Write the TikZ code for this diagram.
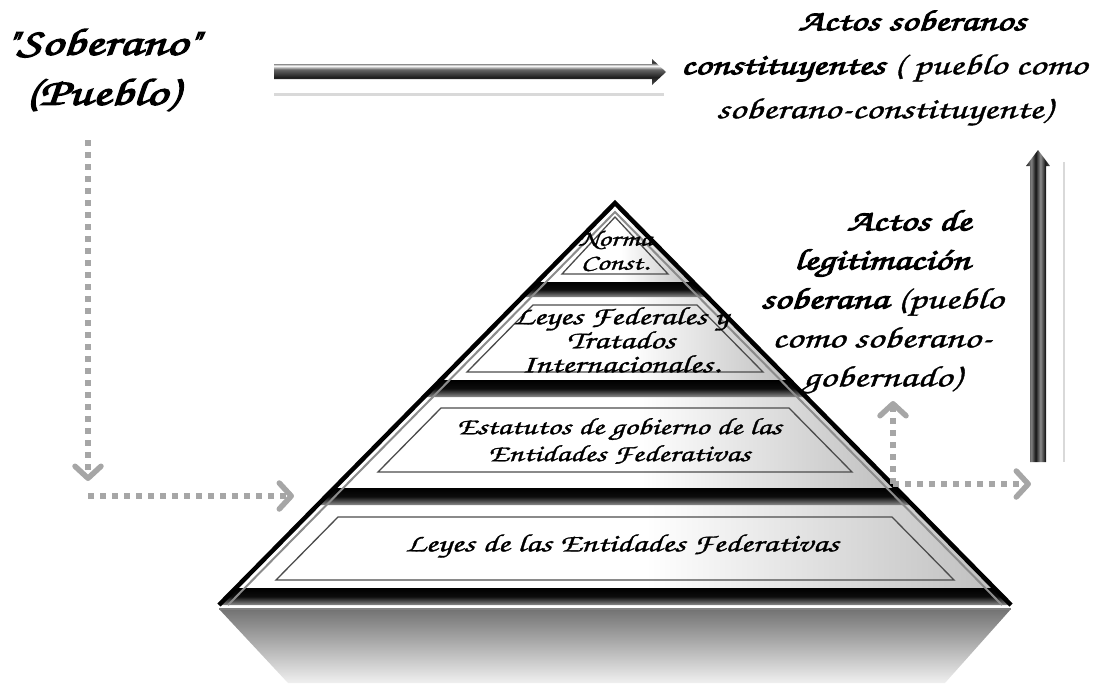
\documentclass[tikz,border=0pt]{standalone}
\usepackage{fontspec}
\setmainfont{TeX Gyre Chorus}[FakeStretch=1.4, FakeBold=1.2, BoldFont={TeX Gyre Chorus}, BoldFeatures={FakeBold=3.5}]
\newfontfamily\qfont{TeX Gyre Chorus}[Ligatures=TeXOff, FakeStretch=1.4, FakeBold=3.5]
\usetikzlibrary{arrows.meta}
\definecolor{dotgray}{HTML}{A6A6A6}
\pgfdeclareverticalshading{bandshade}{100bp}{color(0bp)=(black!45); color(25bp)=(black!45); color(38bp)=(black!72); color(50bp)=(black!95); color(75bp)=(black); color(100bp)=(black)}
\pgfdeclarehorizontalshading{tiershade}{100bp}{color(0bp)=(white); color(25bp)=(white); color(52bp)=(white); color(75bp)=(black!25); color(100bp)=(black!25)}
\pgfdeclarehorizontalshading{vbarshade}{100bp}{color(0bp)=(black!85); color(25bp)=(black!85); color(36bp)=(black!50); color(45bp)=(black!92); color(55bp)=(black!45); color(65bp)=(black!90); color(75bp)=(black!65); color(100bp)=(black!65)}
\pgfdeclareverticalshading{hbarshade}{100bp}{color(0bp)=(black!70); color(25bp)=(black!70); color(40bp)=(black!88); color(55bp)=(black!60); color(62bp)=(white); color(68bp)=(black!80); color(75bp)=(black!70); color(100bp)=(black!70)}
\begin{document}
\begin{tikzpicture}[x=1pt,y=-1pt,
  tierfill/.style={shading=tiershade},
  bandfill/.style={shading=bandshade},
  innerbox/.style={draw=black!70, line width=1.3pt},
  dotarrow/.style={draw=dotgray, line width=5.5pt, dash pattern=on 6pt off 6pt, -{Straight Barb[length=12pt,width=26pt,round]}},
  lbl/.style={align=center, inner sep=0pt, text=black},
]
\useasboundingbox (0,0) rectangle (1094,683);

% reflection under pyramid
\shade[top color=black!55, bottom color=black!6] (219,609) -- (1011,609) -- (945,683) -- (288,683) -- cycle;

% tiers (white parts)
\shade[tierfill] (615,203) -- (692.8,282) -- (537.2,282) -- cycle;
\shade[tierfill] (522.4,297) -- (707.6,297) -- (789.3,380) -- (440.7,380) -- cycle;
\shade[tierfill] (423.9,397) -- (806.1,397) -- (895.7,488) -- (334.3,488) -- cycle;
\shade[tierfill] (317.5,505) -- (912.5,505) -- (994.2,588) -- (235.8,588) -- cycle;

% bands
\shade[bandfill] (537.2,282) -- (692.8,282) -- (707.6,297) -- (522.4,297) -- cycle;
\shade[bandfill] (440.7,380) -- (789.3,380) -- (806.1,397) -- (423.9,397) -- cycle;
\shade[bandfill] (334.3,488) -- (895.7,488) -- (912.5,505) -- (317.5,505) -- cycle;
\shade[bandfill] (235.8,588) -- (994.2,588) -- (1011,605) -- (219,605) -- cycle;

% slopes
\draw[black!45, line width=2pt] (228,605) -- (615,212) -- (1002,605);
\draw[black, line width=4.5pt, line join=miter] (219,605) -- (615,203) -- (1011,605);
\draw[black!50, line width=1.5pt] (219,609) -- (1011,609);

% inner frames
\draw[innerbox] (615,217) -- (668,274) -- (562,274) -- cycle;
\draw[innerbox] (533,305) -- (697,305) -- (763,372) -- (467,372) -- cycle;
\draw[innerbox] (441,408) -- (789,408) -- (852,472) -- (378,472) -- cycle;
\draw[innerbox] (338,517) -- (892,517) -- (954,580) -- (276,580) -- cycle;

% tier texts
\node[lbl, font=\fontsize{22}{24}\selectfont] (tier1) at (615,251) {Norma\\Const.};
\node[lbl, font=\fontsize{25}{24}\selectfont] (tier2) at (621,340) {Leyes Federales y\\Tratados\\Internacionales.};
\node[lbl, font=\fontsize{23.5}{27}\selectfont] (tier3) at (619,441) {Estatutos de gobierno de las\\Entidades Federativas};
\node[lbl, font=\fontsize{25}{27}\selectfont] (tier4) at (622,546) {Leyes de las Entidades Federativas};

% top-left text
\node[lbl, font=\fontsize{38}{50}\selectfont\bfseries] (sob) at (102,70) {{\qfont"}Soberano{\qfont"}\\(Pueblo)};

% top-right text
\node[lbl, font=\fontsize{29}{44}\selectfont] (act) at (884,68)
  {\hspace*{56pt}\textbf{Actos soberanos}\\\textbf{constituyentes} ( pueblo como\\soberano-constituyente)};

% right middle text
\node[lbl, font=\fontsize{29.5}{39}\selectfont] (leg) at (882,302)
  {\hspace*{54pt}\textbf{Actos de}\\\textbf{legitimación}\\\textbf{soberana} (pueblo\\como soberano-\\gobernado)};

% top horizontal arrow
\shade[shading=hbarshade] (274,64) -- (652,64) -- (652,59) -- (666,72) -- (652,85) -- (652,79) -- (274,79) -- cycle;
\fill[black!15] (274,93) rectangle (664,96);

% vertical arrow
\shade[shading=vbarshade] (1030,462) -- (1030,166) -- (1026,166) -- (1038,150) -- (1050,166) -- (1046,166) -- (1046,462) -- cycle;
\draw[black!15, line width=1.5pt] (1064,162) -- (1064,462);

% dotted connectors
\coordinate (d1a) at (88,140);
\coordinate (d1b) at (88,481);
\coordinate (d2a) at (88,496);
\coordinate (d2b) at (294,496);
\coordinate (d3a) at (893,484);
\coordinate (d3b) at (893,401);
\coordinate (d4b) at (1031,484);
\draw[dotarrow] (d1a) -- (d1b);
\draw[dotarrow] (d2a) -- (d2b);
\draw[dotarrow] (d3a) -- (d3b);
\draw[dotarrow] (d3a) -- (d4b);
\end{tikzpicture}
\end{document}
